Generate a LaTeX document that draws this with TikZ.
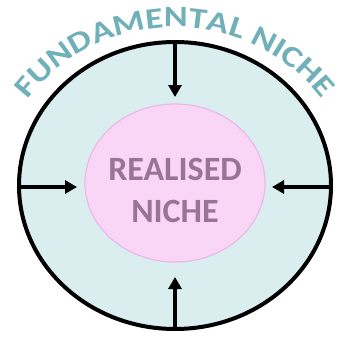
\documentclass[tikz,border=0pt]{standalone}
\usepackage{fontspec}
\setmainfont{Carlito}
\newfontfamily\archfont[FakeStretch=1.23]{Carlito}
\usetikzlibrary{shapes.geometric,arrows.meta,decorations.text}
\definecolor{outerfill}{HTML}{DAEEF0}
\definecolor{innerfill}{HTML}{F9D6F6}
\definecolor{innerdraw}{HTML}{EDB8E8}
\definecolor{innertext}{HTML}{9B7298}
\definecolor{teal}{HTML}{70B0B8}
\tikzset{
  outerniche/.style={ellipse, draw=black, line width=4pt, fill=outerfill, minimum width=312pt, minimum height=287pt, inner sep=0pt},
  innerniche/.style={ellipse, draw=innerdraw, line width=1.2pt, fill=innerfill, minimum width=180pt, minimum height=158pt, inner sep=0pt},
  innerlabel/.style={text=innertext, font=\fontsize{34}{40}\selectfont\bfseries, anchor=base, inner sep=0pt},
  pusharrow/.style={line width=4pt, -{Triangle[length=12pt,width=13pt]}}
}
\begin{document}
\begin{tikzpicture}[x=1pt,y=1pt]
\useasboundingbox (0,0) rectangle (346,341);
\node[outerniche] (outer) at (175,155.5) {};
\node[innerniche] (inner) at (175,158) {};
\node[innerlabel] (label1) at (175,161) {REALISED};
\node[innerlabel] (label2) at (175,119) {NICHE};
\coordinate (tT) at (175,244);
\coordinate (tB) at (175,64);
\coordinate (tL) at (77,154);
\coordinate (tR) at (272,154);
\coordinate (sT) at (175,298);
\coordinate (sB) at (175,12);
\coordinate (sL) at (19,154);
\coordinate (sR) at (331,154);
\draw[pusharrow] (sT) -- (tT);
\draw[pusharrow] (sB) -- (tB);
\draw[pusharrow] (sL) -- (tL);
\draw[pusharrow] (sR) -- (tR);
\coordinate (arcstart) at ({175+186*cos(141)},{128+186*sin(141)});
\path[decorate, decoration={text along path, text align=center, text color=teal, text={|\archfont\fontsize{29.5}{29.5}\selectfont\bfseries|FUNDAMENTAL NICHE}}] (arcstart) arc[start angle=141, end angle=39, radius=186];
\end{tikzpicture}
\end{document}
